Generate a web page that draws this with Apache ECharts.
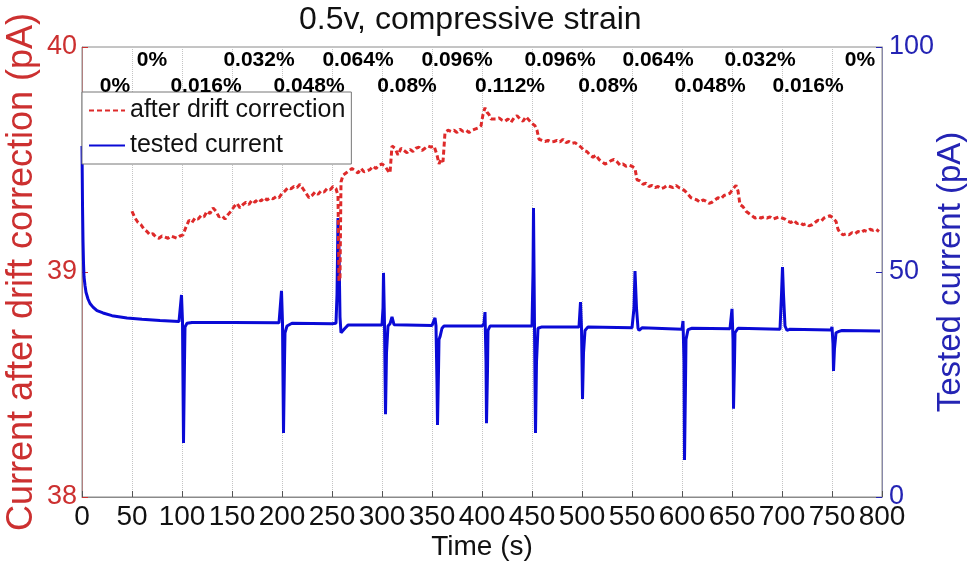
<!DOCTYPE html>
<html>
<head>
<meta charset="utf-8">
<script src="https://cdn.jsdelivr.net/npm/echarts@6/dist/echarts.min.js"></script>
<style>
html,body{margin:0;padding:0;background:#fff;}
#chart{width:971px;height:565px;}
</style>
</head>
<body>
<div id="chart"></div>
<script>
// ---------- data ----------
const titleText = '0.5v, compressive strain';
const xTicks = {min: 0, max: 800, interval: 50};
const leftTicks = {min: 38, max: 40, interval: 1};
const rightTicks = {min: 0, max: 100, interval: 50};

// strain annotations: [time, label]
const strainTopTimes = [70, 177, 276, 375, 478, 576, 678, 778];
const strainTopLabels = ['0%', '0.032%', '0.064%', '0.096%', '0.096%', '0.064%', '0.032%', '0%'];
const strainBottomTimes = [33, 124, 227, 325, 428, 526, 628, 726];
const strainBottomLabels = ['0%', '0.016%', '0.048%', '0.08%', '0.112%', '0.08%', '0.048%', '0.016%'];
const strainTopLevel = 39.942;
const strainBottomLevel = 39.827;

// after drift correction (left axis, pA)
const driftTime = [50,53,56,59,62,65,68,71,74,77,80,83,86,89,92,95,98,101,104,107,110,113,116,119,122,125,128,131,134,137,140,143,146,149,152,155,158,161,164,167,170,173,176,179,182,185,188,191,194,197,200,203,206,209,212,215,218,221,224,227,230,233,236,239,242,245,248,251,254,256,257,258,259,261,264,267,270,273,276,279,282,285,288,291,294,297,300,303,306,308,310,313,316,319,322,325,328,331,334,337,340,343,346,349,352,355,357,359,361,363,366,369,372,375,378,381,384,387,390,393,396,399,401,403,405,407,409,411,414,417,420,423,426,429,432,435,438,441,444,447,450,453,455,457,460,463,466,469,472,475,478,481,484,487,490,493,496,499,502,505,508,511,514,517,520,523,526,529,532,535,538,541,544,547,550,553,555,558,561,564,567,570,573,576,579,582,585,588,591,594,597,600,603,606,609,612,615,618,621,624,627,630,633,636,639,642,645,648,651,654,656,658,661,664,667,670,673,676,679,682,685,688,691,694,697,700,703,706,709,712,715,718,721,724,727,730,733,736,739,742,745,748,751,754,756,758,761,764,767,770,773,776,779,782,785,788,791,794,797];
const driftValue = [39.27,39.24,39.22,39.21,39.19,39.18,39.165,39.17,39.155,39.15,39.16,39.155,39.15,39.16,39.155,39.15,39.16,39.165,39.2,39.23,39.22,39.24,39.235,39.25,39.245,39.27,39.26,39.285,39.27,39.245,39.25,39.235,39.255,39.27,39.29,39.305,39.285,39.3,39.31,39.3,39.32,39.31,39.325,39.315,39.33,39.32,39.33,39.325,39.335,39.33,39.35,39.36,39.375,39.37,39.38,39.375,39.39,39.37,39.35,39.33,39.34,39.355,39.345,39.36,39.355,39.37,39.365,39.38,39.37,39.34,38.96,38.97,39.40,39.43,39.44,39.45,39.46,39.45,39.44,39.46,39.445,39.45,39.455,39.47,39.46,39.475,39.48,39.47,39.45,39.44,39.56,39.55,39.52,39.55,39.54,39.53,39.545,39.535,39.55,39.555,39.54,39.55,39.56,39.555,39.56,39.52,39.48,39.5,39.49,39.62,39.63,39.625,39.63,39.62,39.635,39.625,39.63,39.62,39.63,39.635,39.64,39.65,39.70,39.73,39.71,39.70,39.68,39.675,39.68,39.685,39.675,39.67,39.68,39.665,39.685,39.695,39.68,39.67,39.69,39.675,39.66,39.65,39.63,39.59,39.585,39.58,39.585,39.578,39.58,39.585,39.578,39.59,39.575,39.58,39.572,39.575,39.565,39.555,39.54,39.535,39.52,39.51,39.52,39.5,39.49,39.48,39.485,39.495,39.5,39.49,39.475,39.48,39.47,39.475,39.47,39.46,39.41,39.405,39.39,39.395,39.38,39.385,39.375,39.38,39.37,39.375,39.385,39.38,39.375,39.385,39.375,39.37,39.36,39.345,39.33,39.325,39.32,39.31,39.32,39.315,39.305,39.31,39.32,39.33,39.325,39.34,39.345,39.35,39.37,39.385,39.36,39.3,39.29,39.27,39.26,39.25,39.24,39.245,39.24,39.245,39.24,39.245,39.235,39.24,39.245,39.24,39.235,39.225,39.22,39.23,39.215,39.22,39.21,39.215,39.205,39.21,39.22,39.23,39.225,39.24,39.245,39.25,39.24,39.225,39.19,39.175,39.165,39.17,39.165,39.175,39.17,39.18,39.175,39.185,39.18,39.19,39.185,39.19,39.18];

// tested current (right axis, pA)
const testedTime = [0,0.5,1,1.5,2,3,4,6,8,11,15,21,30,45,60,78,97,99,99.5,100.5,101,101.5,102.5,103,105,110,150,197,199,199.5,200.5,201,201.5,202.5,203,205,210,250,254,255,256,257,258,259,261,263,266,300,301,301.5,302.5,303,303.5,304.5,306,308,310,312,350,352,353,354,355,355.5,356.5,357,358,360,362,400,402,403,404,404.5,405.5,406,408,450,451,451.5,452.5,453,453.5,454.5,456,460,497,498.5,499.5,500,500.5,501.5,503,506,550,552,553,554.5,556,557,560,600,601,602,602.5,603.5,604,606,610,648,650,651,651.5,652.5,653,656,698,699.5,700.5,701.5,703,705,708,749,750,751,751.5,752.5,754,757,760,798];
const testedValue = [78,65,57,52,49,47,45.5,44,43,42.2,41.4,40.9,40.3,39.8,39.5,39.2,39.0,39.2,44.9,39,25,12,30,37.8,38.6,38.8,38.8,38.7,39,45.8,38.7,26,14.2,30,36.5,38,38.6,38.5,38.6,45,62,55,40,36.5,36.2,37.5,38.2,38.2,42,49.8,38.5,28,18.4,32,38,38.5,40,38.3,38.1,38.3,39.8,38,25,16,28,35,35.6,37.5,38,38.0,38.5,41.1,30,16.4,28,37,38,38,50,64.2,38,25,14.2,30,37.5,37.8,37.8,43.3,37.5,30,21.8,32,37,37.8,37.6,42,50.2,42,37.5,37,37.6,37.3,39.1,30,8.2,25,35,37.2,37.5,37.4,41.8,35,19.6,30,36.5,37.5,37.3,45,51.1,45,38,37,37.3,37.1,37.8,34,28,33,36.5,36.8,37,36.9];

// ---------- build ----------
const zip = (a, b) => a.map((v, i) => [v, b[i]]);
const redLine = '#de2a2a';
const blueLine = '#0a0ad6';
const redText = '#cc3030';
const blueText = '#2424b4';
const font = '"Liberation Sans", Arial, sans-serif';

const strainData = zip(strainTopTimes, strainTopTimes.map(() => strainTopLevel)).map((p, i) => ({value: p, name: strainTopLabels[i]}))
  .concat(zip(strainBottomTimes, strainBottomTimes.map(() => strainBottomLevel)).map((p, i) => ({value: p, name: strainBottomLabels[i]})));

const chart = echarts.init(document.getElementById('chart'), null, {renderer: 'canvas'});
chart.setOption({
  animation: false,
  backgroundColor: '#fff',
  title: {
    text: titleText, left: 299, top: 4, padding: 0,
    textStyle: {fontFamily: font, fontSize: 32, fontWeight: 'normal', color: '#111'}
  },
  grid: {left: 82, right: 89, top: 47, bottom: 68, outerBoundsMode: 'none', containLabel: false,
    show: true, borderColor: '#8a8a8a', borderWidth: 1, backgroundColor: 'transparent'},
  legend: {
    data: ['after drift correction', 'tested current'],
    orient: 'vertical', left: 82, top: 92,
    padding: [6, 6, 6, 6], itemGap: 10, itemWidth: 36, itemHeight: 4,
    backgroundColor: '#fff', borderColor: '#777', borderWidth: 1,
    itemStyle: {opacity: 0},
    textStyle: {fontFamily: font, fontSize: 25, color: '#111'},
    selectedMode: false
  },
  xAxis: {
    type: 'value', min: xTicks.min, max: xTicks.max, interval: xTicks.interval,
    name: 'Time (s)', nameLocation: 'middle', nameGap: 36, nameMoveOverlap: false,
    nameTextStyle: {fontFamily: font, fontSize: 28, color: '#111'},
    axisLine: {show: true, lineStyle: {color: '#8a8a8a'}},
    axisTick: {show: true, inside: true, length: 6, lineStyle: {color: '#555'}},
    axisLabel: {fontFamily: font, fontSize: 28, color: '#111', margin: 6, hideOverlap: false},
    splitLine: {show: true, lineStyle: {color: '#c4c4c4', type: 'dotted', width: 1}}
  },
  yAxis: [{
    type: 'value', position: 'left', min: leftTicks.min, max: leftTicks.max, interval: leftTicks.interval,
    name: 'Current after drift correction (pA)', nameLocation: 'middle', nameGap: 42, nameMoveOverlap: false,
    nameTextStyle: {fontFamily: font, fontSize: 36, color: redText},
    axisLine: {show: true, lineStyle: {color: '#b08080'}},
    axisTick: {show: true, inside: true, length: 6, lineStyle: {color: redText}},
    axisLabel: {fontFamily: font, fontSize: 27, color: redText, margin: 5},
    splitLine: {show: false}
  }, {
    type: 'value', position: 'right', min: rightTicks.min, max: rightTicks.max, interval: rightTicks.interval,
    name: 'Tested current (pA)', nameLocation: 'middle', nameGap: 52, nameMoveOverlap: false,
    nameTextStyle: {fontFamily: font, fontSize: 33, color: blueText},
    axisLine: {show: true, lineStyle: {color: '#8888a8'}},
    axisTick: {show: true, inside: true, length: 6, lineStyle: {color: blueText}},
    axisLabel: {fontFamily: font, fontSize: 27, color: blueText, margin: 7},
    splitLine: {show: false}
  }],
  series: [{
    name: 'tested current', type: 'line', yAxisIndex: 1,
    data: zip(testedTime, testedValue),
    symbol: 'none', lineStyle: {color: blueLine, width: 3}, itemStyle: {color: blueLine}, z: 2
  }, {
    name: 'after drift correction', type: 'line', yAxisIndex: 0,
    data: zip(driftTime, driftValue),
    symbol: 'none', lineStyle: {color: redLine, width: 3, type: [5, 3]}, itemStyle: {color: redLine}, z: 3
  }, {
    name: 'strain', type: 'scatter', yAxisIndex: 0, silent: true,
    data: strainData, symbolSize: 0, itemStyle: {color: '#000'},
    label: {show: true, position: 'inside', formatter: p => p.name,
      fontFamily: font, fontSize: 21, fontWeight: 'bold', color: '#000', opacity: 1},
    z: 5
  }]
});
</script>
</body>
</html>
